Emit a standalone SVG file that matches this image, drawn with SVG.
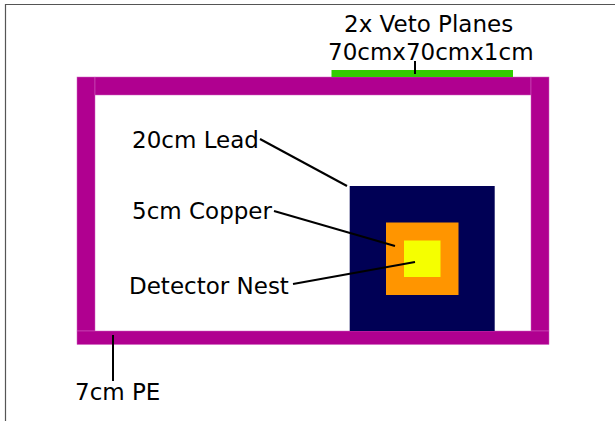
<svg xmlns="http://www.w3.org/2000/svg" width="615" height="421" viewBox="0 0 615 421">
<style>
.pe{fill:#b00090;stroke:#d060c0;stroke-width:.5}
text{font-family:"DejaVu Sans",sans-serif;font-size:23px;fill:#000}
.c{stroke:#000;stroke-width:2;fill:none}
</style>
<rect width="615" height="421" fill="#fff"/>
<path d="M5.500 421V4.500H615" fill="none" stroke="#555" stroke-width="1.2"/>
<g id="pe-shield">
<rect class="pe" x="77" y="77" width="18" height="254"/>
<rect class="pe" x="95" y="77" width="436" height="18"/>
<rect class="pe" x="531" y="77" width="18" height="254"/>
<rect class="pe" x="77" y="331" width="472" height="13.500"/>
</g>
<g id="veto-plane"><rect x="331.500" y="70" width="181.500" height="7" fill="#33cc00"/></g>
<g id="lead"><rect x="349.700" y="186" width="145" height="145" fill="#000055"/></g>
<g id="copper"><rect x="386" y="222.500" width="72.500" height="72.500" fill="#ff9500"/></g>
<g id="detector-nest"><rect x="404" y="240.500" width="36.500" height="36.500" fill="#f5ff00"/></g>
<g id="connectors">
<path class="c" d="M260 139L347 186"/>
<path class="c" d="M274 211L395 246"/>
<path class="c" d="M293 284L415 262"/>
<path class="c" d="M415 61V74"/>
<path class="c" d="M113 335V381"/>
</g>
<g id="labels">
<text x="132" y="148">20cm Lead</text>
<text x="132" y="219">5cm Copper</text>
<text x="129" y="294">Detector Nest</text>
<text x="75" y="400">7cm PE</text>
<text x="344" y="32">2x Veto Planes</text>
<text x="328" y="60">70cmx70cmx1cm</text>
</g>
</svg>
